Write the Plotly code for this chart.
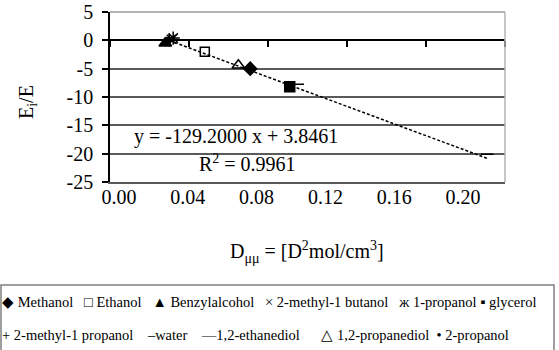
import plotly.graph_objects as go

# ---------------- data ----------------
names = ["Methanol", "Ethanol", "Benzylalcohol", "2-methyl-1 butanol", "1-propanol",
         "glycerol", "2-methyl-1 propanol", "water", "1,2-ethanediol",
         "1,2-propanediol", "2-propanol"]
d_mumu = [0.071, 0.048, 0.028, 0.031, 0.032, 0.091, 0.030, 0.191, 0.094, 0.065, 0.029]
ei_e = [-5.0, -2.0, -0.5, 0.2, 0.4, -8.2, 0.0, -20.1, -7.75, -4.4, -0.1]

slope = -129.2000
intercept = 3.8461
r2 = 0.9961

x_ticks = [0.00, 0.04, 0.08, 0.12, 0.16, 0.20]
x_tick_text = ["0.00", "0.04", "0.08", "0.12", "0.16", "0.20"]
y_ticks = [5, 0, -5, -10, -15, -20, -25]
y_tick_text = ["5", "0", "-5", "-10", "-15", "-20", "-25"]

legend_glyphs = ["◆", "□", "▲", "×", "ж", "▪", "+", "–", "—", "△", "•"]

# ---------------- styles ----------------
symbols = ["diamond", "square-open", "triangle-up", "x-thin-open", "asterisk-open",
           "square", "cross-thin-open", "line-ew-open", "line-ew-open",
           "triangle-up-open", "circle"]
sizes = [10, 9, 11, 9, 11, 10, 9, 9, 12, 11, 7]
legend_gaps = [0, 3, 3, 3, 3, 1, 0, 4, 4, 6, 2]  # non-breaking spaces before each entry

FONT = "Times New Roman"
W, H = 559, 350
L, R, T, B = 110, 505, 12, 182  # plot area pixel box
LAB0, LAB1 = 119, 463           # pixel centres of first/last x label


def px(p):
    return (p - L) / (R - L)


def py(q):
    return (B - q) / (B - T)


fig = go.Figure()

# trendline from the fitted equation over the data's x-span
x0, x1 = min(d_mumu), max(d_mumu)
fig.add_trace(go.Scatter(x=[x0, x1], y=[slope * x0 + intercept, slope * x1 + intercept],
                         mode="lines", line=dict(color="black", width=1.5, dash="3px,2px"),
                         showlegend=False, hoverinfo="skip"))

for n, xv, yv, s, sz in zip(names, d_mumu, ei_e, symbols, sizes):
    fig.add_trace(go.Scatter(x=[xv], y=[yv], mode="markers", name=n, showlegend=False,
                             marker=dict(symbol=s, size=sz, color="black",
                                         line=dict(color="black", width=1.5))))

# invisible trace to carry the label axis
fig.add_trace(go.Scatter(x=[x_ticks[0]], y=[y_ticks[-1]], xaxis="x2", mode="markers",
                         marker=dict(opacity=0), showlegend=False, hoverinfo="skip"))

zero_pos = (0 - y_ticks[-1]) / (y_ticks[0] - y_ticks[-1])
lab_scale = (LAB1 - LAB0) / (x_ticks[-1] - x_ticks[0])

fig.update_layout(
    width=W, height=H,
    margin=dict(l=L, r=W - R, t=T, b=H - B, pad=0, autoexpand=False),
    paper_bgcolor="white", plot_bgcolor="white",
    font=dict(family=FONT, size=20, color="black"),
    xaxis=dict(range=[0, 0.20], tickvals=x_ticks, showticklabels=False,
               ticks="outside", ticklen=6, tickwidth=1.5, tickcolor="black",
               showline=True, linecolor="black", linewidth=1.5, automargin=False,
               showgrid=False, zeroline=False, anchor="free", position=zero_pos),
    xaxis2=dict(overlaying="x", anchor="y", side="bottom", automargin=False,
                range=[-(LAB0 - L) / lab_scale, (R - LAB0) / lab_scale],
                tickvals=x_ticks, ticktext=x_tick_text, ticks="",
                showline=True, linecolor="#5a5a5a", linewidth=1.5,
                showgrid=False, zeroline=False, ticklabelstandoff=-4,
                tickfont=dict(family=FONT, size=20)),
    yaxis=dict(range=[-25, 5], tickvals=y_ticks, ticktext=y_tick_text,
               ticks="outside", ticklen=6,
               tickwidth=1.5, tickcolor="black", showline=True, linecolor="black",
               linewidth=1.5, showgrid=True, gridcolor="#5a5a5a", gridwidth=1.5,
               automargin=False, zeroline=False,
               tickfont=dict(family=FONT, size=20), ticklabelstandoff=5),
)

# light plot-area border on top and right
fig.add_shape(type="line", xref="paper", yref="paper", x0=0, x1=1, y0=1, y1=1,
              line=dict(color="#b4b4b4", width=2), layer="above")
fig.add_shape(type="line", xref="paper", yref="paper", x0=1, x1=1, y0=0, y1=1,
              line=dict(color="#b4b4b4", width=1.5), layer="above")

TF = dict(family=FONT, size=20, color="black")
ANN = dict(xref="paper", yref="paper", showarrow=False, xanchor="center", yanchor="middle")

# equation text
fig.add_annotation(x=px(236), y=py(136), text=f"y = {slope:.4f} x + {intercept:.4f}",
                   font=TF, **ANN)
fig.add_annotation(x=px(247), y=py(163), text=f"R<sup>2</sup> = {r2:.4f}", font=TF, **ANN)

# axis titles
fig.add_annotation(x=px(307), y=py(252),
                   text="D<sub>μμ</sub> = [D<sup>2</sup>mol/cm<sup>3</sup>]", font=TF, **ANN)
fig.add_annotation(x=px(27), y=py(102), text="E<sub>i</sub>/E", textangle=-90,
                   font=TF, **ANN)

# legend box
fig.add_shape(type="rect", xref="paper", yref="paper", x0=px(1), x1=px(554),
              y0=py(285), y1=py(360), line=dict(color="#808080", width=1.5),
              layer="above")

NB = "\u00a0"


def entry(g, n, gap):
    sep = "" if g in ("–", "—") else NB
    return NB * gap + g + sep + n


parts = [entry(g, n, k) for g, n, k in zip(legend_glyphs, names, legend_gaps)]
row1 = "".join(parts[:6])
row2 = "".join(parts[6:])
for txt, yy in ((row1, 302), (row2, 335)):
    fig.add_annotation(xref="paper", yref="paper", x=px(0), y=py(yy), xanchor="left",
                       yanchor="middle", text=txt, showarrow=False,
                       font=dict(family=FONT, size=14.5, color="black"))

fig.write_html("out.html", config={"displayModeBar": False},
               post_script="document.body.style.margin='0px';")
